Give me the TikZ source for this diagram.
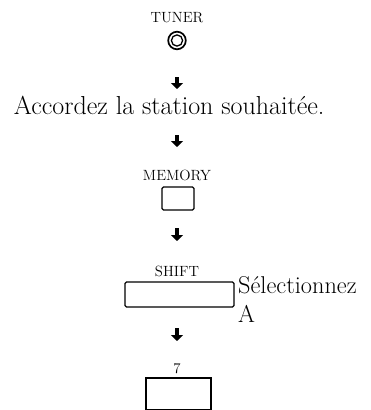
\documentclass[tikz,border=0pt]{standalone}
\usepackage{fontspec}
\usepackage{tikz}
\usetikzlibrary{arrows.meta}

\tikzset{
  lab/.style={font=\fontsize{14.8}{16}\selectfont, anchor=base, inner sep=0pt},
  txt/.style={font=\fontsize{26}{29}\selectfont, inner sep=0pt},
  key/.style={draw, line width=1.3pt, rounded corners=1.5pt},
  arr/.style={line width=3.6pt, -{Triangle[width=12pt,length=6pt]}}
}

\begin{document}
\begin{tikzpicture}[x=1pt, y=-1pt]
  \useasboundingbox (0,0) rectangle (371,410);
  % labels above the buttons
  \node[lab] (tunerlab) at (177,22) {TUNER};
  \node[lab] (memlab) at (177,180) {MEMORY};
  \node[lab] (shiftlab) at (177,276.5) {SHIFT};
  \node[lab] (sevenlab) at (177,373) {7};
  % buttons
  \draw[line width=1.7pt] (177,40.5) circle (8.8);
  \draw[line width=1.3pt] (177,40.5) circle (5.6);
  \draw[key] (162,187) rectangle (194,210);
  \draw[key] (125,282) rectangle (234,307);
  \draw[line width=1.3pt] (146,378) rectangle (211,409.3);
  % texts
  \node[txt, anchor=base] (accord) at (169.2,114.5) {Accordez la station souhaitée.};
  \node[txt, font=\fontsize{24.3}{29}\selectfont, anchor=north west, align=left]
    (select) at (238,276) {Sélectionnez\\A};
  % arrows
  \foreach \i/\ys/\ye in {1/77/89, 2/135/147, 3/228/241, 4/328/341}{
    \coordinate (s\i) at (177,\ys);
    \coordinate (e\i) at (177,\ye);
    \draw[arr] (s\i) -- (e\i);
  }
\end{tikzpicture}
\end{document}
